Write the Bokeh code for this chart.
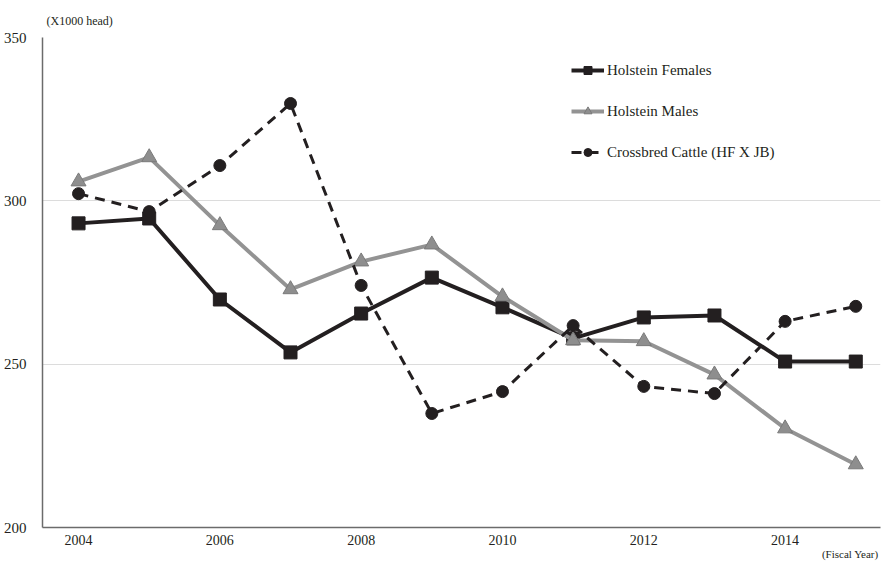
from bokeh.plotting import figure
from bokeh.models import FixedTicker, Legend, Range1d, Title
from bokeh.embed import file_html
from bokeh.resources import INLINE

years = [2004, 2005, 2006, 2007, 2008, 2009, 2010, 2011, 2012, 2013, 2014, 2015]
holstein_females = [293.1, 294.6, 269.8, 253.6, 265.5, 276.5, 267.4, 257.9, 264.3, 264.9, 250.8, 250.8]
holstein_males = [305.9, 313.3, 292.5, 272.9, 281.4, 286.6, 270.7, 257.3, 257.0, 246.8, 230.3, 219.3]
crossbred = [302.2, 296.7, 310.8, 329.8, 274.1, 234.9, 241.6, 261.8, 243.2, 241.0, 263.1, 267.7]
x_ticks = [2004, 2006, 2008, 2010, 2012, 2014]
y_ticks = [200, 250, 300, 350]

FONT = "Liberation Serif"
DARK = "#231f20"
GRAY = "#939393"

p = figure(width=882, height=562, output_backend="svg", toolbar_location=None,
           x_range=Range1d(2003.49, 2015.35), y_range=Range1d(200, 350),
           min_border_left=41, min_border_top=37, min_border_bottom=35, min_border_right=2)
p.outline_line_color = None
p.background_fill_color = "white"

r1 = p.line(years, holstein_females, line_color=DARK, line_width=4)
r1m = p.scatter(years, holstein_females, marker="square", size=13, fill_color=DARK, line_color=DARK)
r2 = p.line(years, holstein_males, line_color=GRAY, line_width=4)
r2m = p.scatter(years, holstein_males, marker="triangle", size=15, fill_color="#8e8e8e", line_color="#7a7a7a")
r3 = p.line(years, crossbred, line_color=DARK, line_width=3, line_dash="10 7")
r3m = p.scatter(years, crossbred, marker="circle", size=12, fill_color=DARK, line_color=DARK)

legend = Legend(items=[("Holstein Females", [r1, r1m]),
                       ("Holstein Males", [r2, r2m]),
                       ("Crossbred Cattle (HF X JB)", [r3, r3m])],
                location=(529, 365), padding=0, margin=0, spacing=21,
                glyph_width=33, glyph_height=20, label_standoff=3,
                label_text_font=FONT, label_text_font_size="15px", label_text_color=DARK,
                border_line_color=None, background_fill_alpha=0)
p.add_layout(legend, "center")

p.xaxis.ticker = FixedTicker(ticks=x_ticks)
p.yaxis.ticker = FixedTicker(ticks=y_ticks)
for ax in (p.xaxis, p.yaxis):
    ax.major_tick_line_color = None
    ax.minor_tick_line_color = None
    ax.major_label_text_font = FONT
    ax.major_label_text_font_size = "14px"
    ax.major_label_text_color = DARK
    ax.axis_line_color = "#6b6b6b"
    ax.axis_line_width = 1.5
p.yaxis.major_label_text_font_size = "15px"
p.xaxis.major_label_standoff = 1
p.yaxis.major_label_standoff = 10

p.xgrid.grid_line_color = None
p.ygrid.grid_line_color = "#dcdcdc"
p.ygrid.grid_line_width = 1

p.add_layout(Title(text="(X1000 head)", align="left", offset=4, standoff=16,
                   vertical_align="top",
                   text_font=FONT, text_font_size="12px", text_color=DARK,
                   text_font_style="normal"), "above")
p.add_layout(Title(text="(Fiscal Year)", align="right", offset=2, standoff=0,
                   vertical_align="top",
                   text_font=FONT, text_font_size="11px", text_color=DARK,
                   text_font_style="normal"), "below")

open("out.html", "w").write(file_html(p, INLINE))
